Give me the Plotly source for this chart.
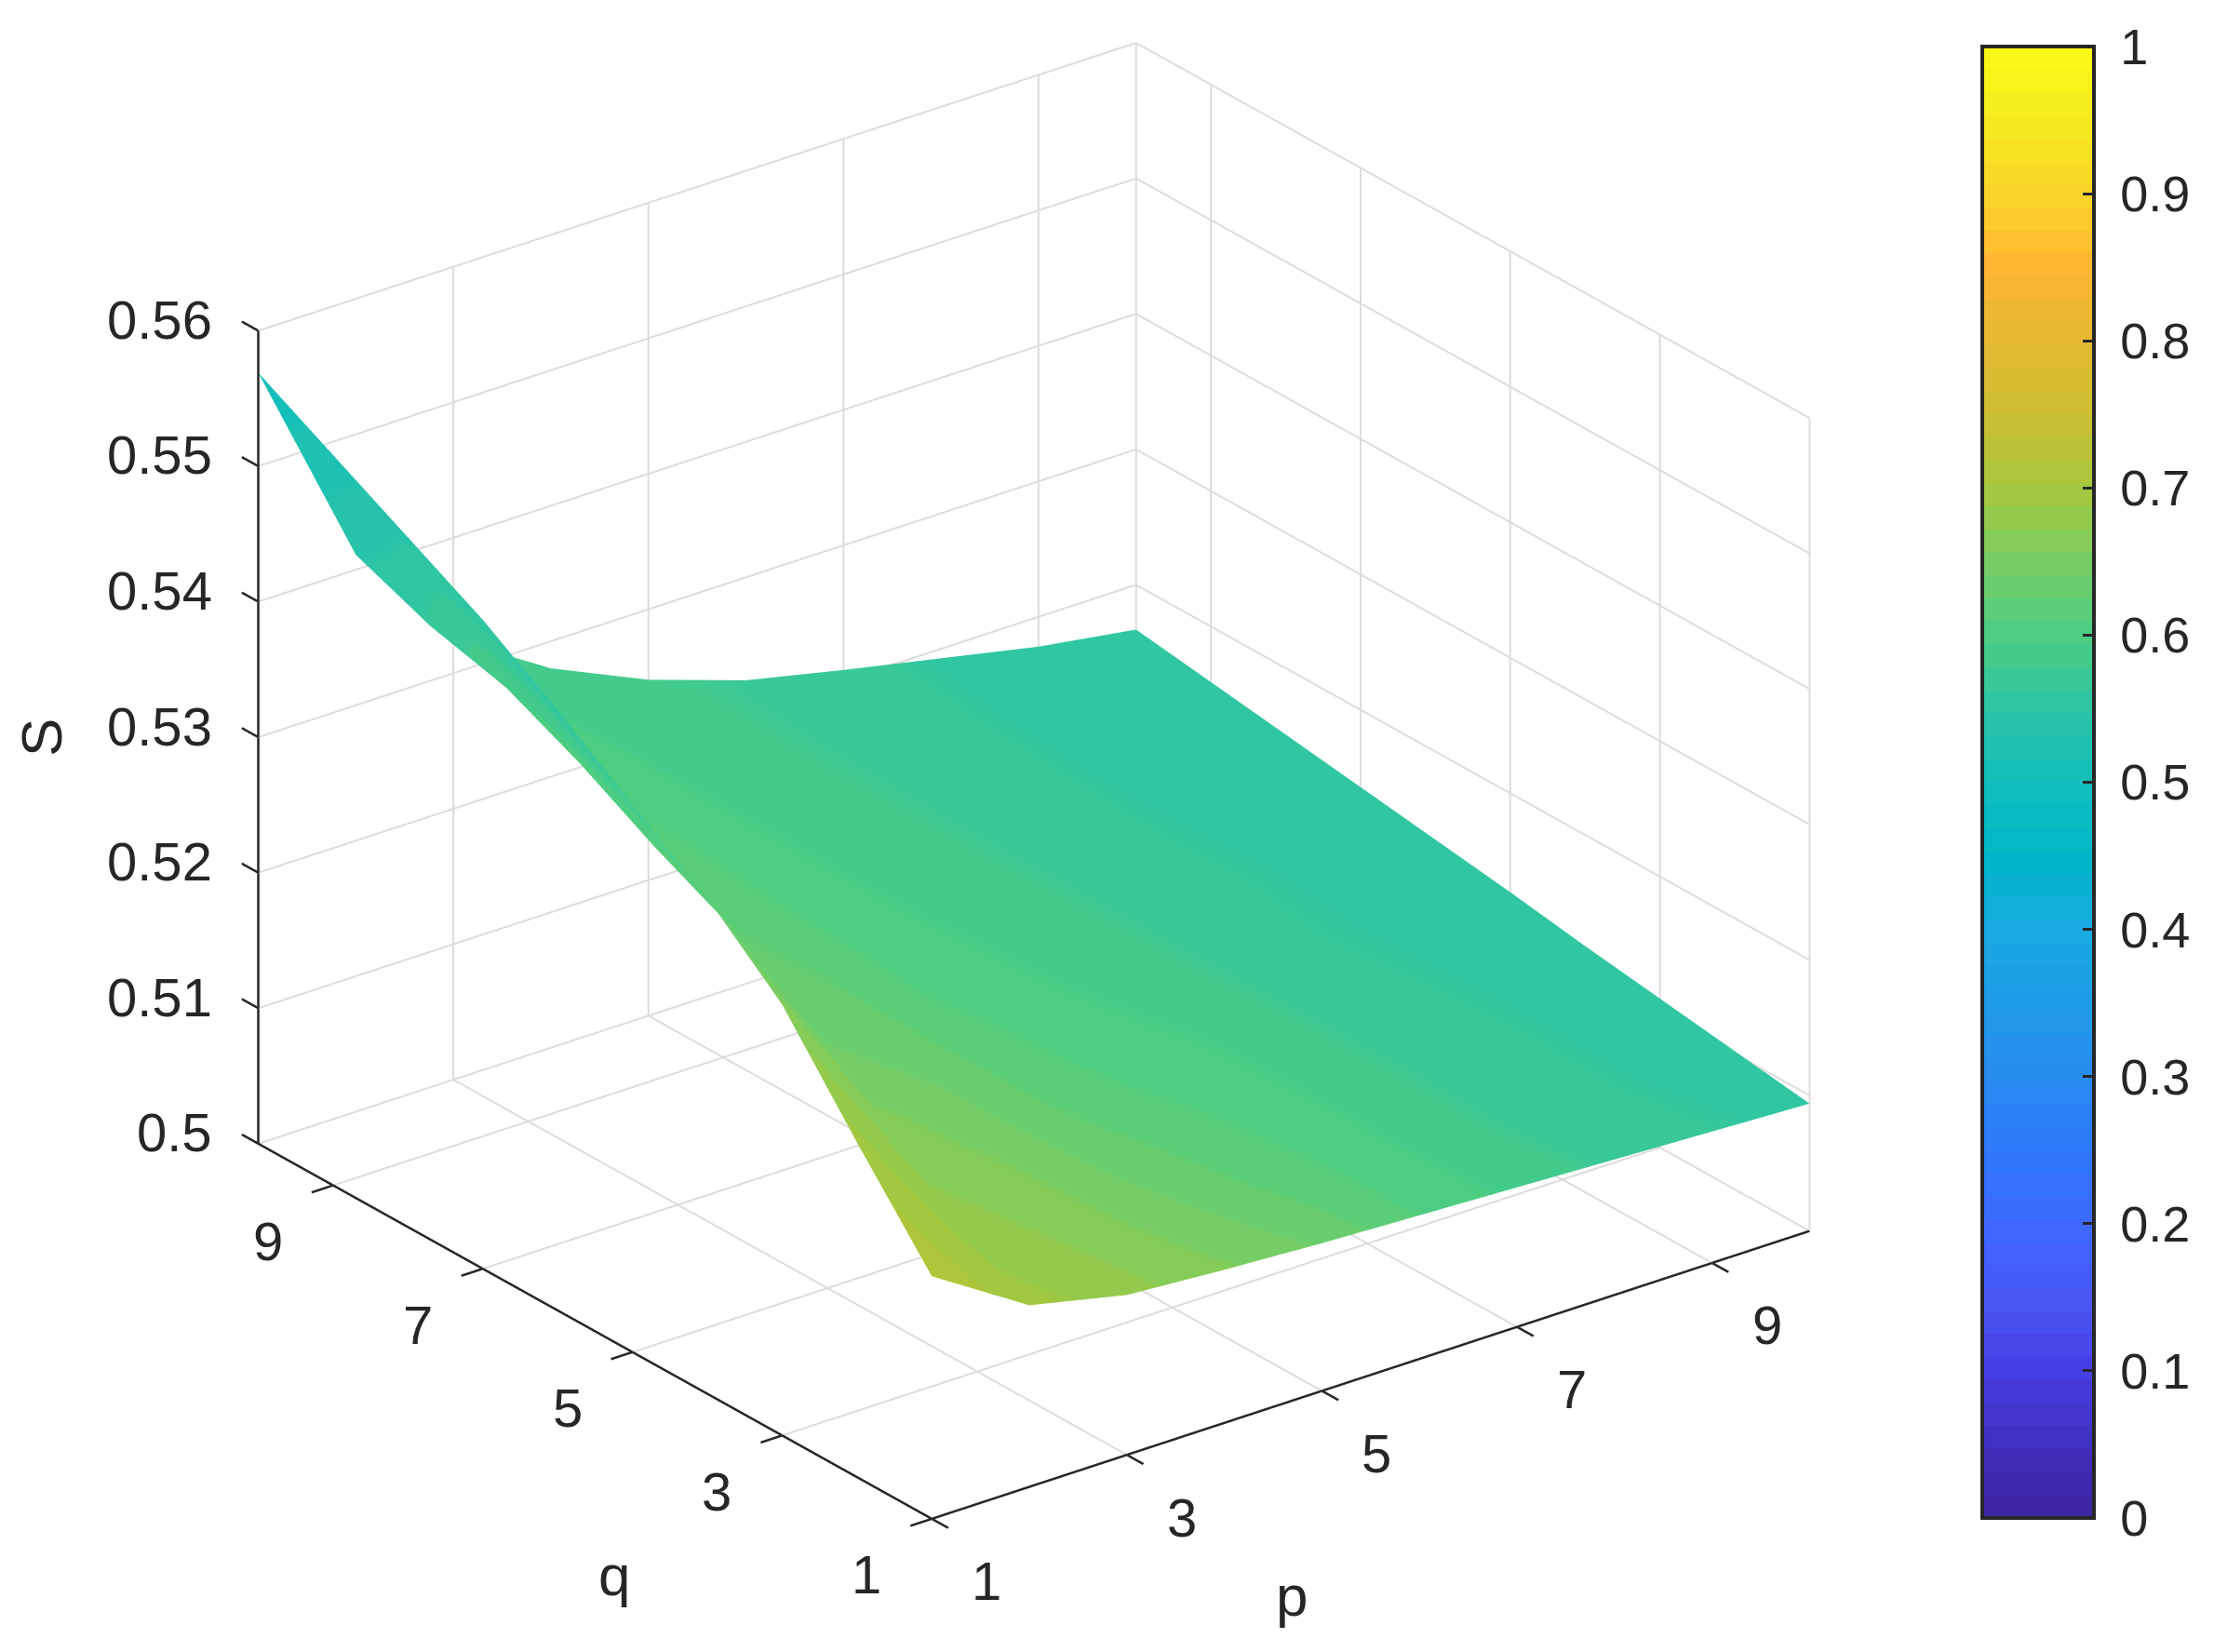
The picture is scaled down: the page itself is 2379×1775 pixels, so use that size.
import math
import plotly.graph_objects as go

p_vals = [1, 2, 3, 4, 5, 6, 7, 8, 9, 10]
q_vals = [1, 2, 3, 4, 5, 6, 7, 8, 9, 10]

# rows: q = 1..10, columns: p = 1..10
S_vals = [
    [.5179, .5134, .5118, .5113, .5109, .5106, .5103, .5100, .5097, .5094],
    [.5247, .5166, .5150, .5134, .5124, .5119, .5115, .5110, .5106, .5102],
    [.5318, .5213, .5180, .5155, .5140, .5132, .5126, .5121, .5115, .5110],
    [.5366, .5254, .5206, .5175, .5155, .5145, .5138, .5131, .5124, .5118],
    [.5404, .5291, .5230, .5194, .5170, .5159, .5150, .5141, .5133, .5127],
    [.5443, .5318, .5252, .5213, .5185, .5172, .5161, .5152, .5142, .5135],
    [.5479, .5349, .5273, .5231, .5200, .5185, .5173, .5162, .5151, .5143],
    [.5509, .5375, .5292, .5248, .5216, .5198, .5185, .5172, .5160, .5151],
    [.5539, .5389, .5308, .5264, .5232, .5211, .5196, .5183, .5169, .5159],
    [.5569, .5411, .5325, .5280, .5248, .5224, .5208, .5193, .5178, .5167],
]
C_vals = [
    [.712, .69, .675, .655, .635, .605, .585, .57, .56, .552],
    [.69, .675, .66, .64, .62, .60, .58, .567, .557, .551],
    [.66, .655, .645, .625, .61, .595, .578, .565, .556, .551],
    [.62, .63, .63, .615, .60, .59, .575, .562, .555, .55],
    [.57, .62, .62, .605, .595, .583, .572, .56, .554, .55],
    [.55, .61, .61, .60, .59, .58, .57, .56, .553, .55],
    [.545, .60, .605, .595, .585, .577, .568, .558, .553, .55],
    [.54, .59, .60, .59, .582, .575, .566, .557, .552, .55],
    [.52, .56, .59, .585, .58, .573, .565, .556, .552, .55],
    [.50, .54, .575, .58, .578, .572, .564, .556, .552, .55],
]

grid_ticks = [1, 3, 5, 7, 9, 10]
label_ticks = [1, 3, 5, 7, 9]
z_ticks = [.5, .51, .52, .53, .54, .55, .56]
z_labels = ["0.5", "0.51", "0.52", "0.53", "0.54", "0.55", "0.56"]

parula_anchors = [
    (60, 35, 160), (65, 48, 190), (70, 62, 228), (72, 88, 245), (62, 105, 255), (45, 120, 250),
    (40, 140, 240), (30, 155, 230), (25, 170, 225), (0, 183, 200), (15, 190, 190), (45, 197, 165),
    (75, 205, 130), (120, 205, 100), (165, 200, 60), (205, 190, 50), (228, 185, 50), (255, 182, 50),
    (250, 212, 40), (245, 235, 30), (250, 250, 20),
]

N = 64
parula = []
for i in range(N):
    t = (i + .5) / N * (len(parula_anchors) - 1)
    k = min(int(t), len(parula_anchors) - 2)
    f = t - k
    a, b = parula_anchors[k], parula_anchors[k + 1]
    col = "rgb(%d,%d,%d)" % tuple(round(a[j] + (b[j] - a[j]) * f) for j in range(3))
    parula.append([i / N, col])
    parula.append([(i + 1) / N, col])

FONT = "Liberation Sans"
INK = "#262626"
GRID = "#dcdcdc"
FS_BAR = 54
FS_AXIS = 58
FS_TITLE = 62
TICK = .22
PAD = TICK + .005
SCALE = 1.417 * (9 + 2 * PAD) / 9

az = math.radians(37.5)
el = math.radians(25.3)
R = 2.0
eye = dict(x=-R * math.sin(az) * math.cos(el), y=-R * math.cos(az) * math.cos(el), z=R * math.sin(el))


def axis(rng):
    return dict(
        title=dict(text=""), range=rng, showticklabels=False, ticks="",
        showbackground=False, showgrid=False, showline=False, zeroline=False, showspikes=False,
    )


zlo, zhi = z_ticks[0], z_ticks[-1]
grid_pairs = []
for v in grid_ticks:
    grid_pairs.append(((10, v, zlo), (10, v, zhi)))   # back wall p=10, verticals
    if v != 1:                                        # v=1 coincides with the black axes
        grid_pairs.append(((v, 10, zlo), (v, 10, zhi)))   # back wall q=10, verticals
        grid_pairs.append(((v, 1, zlo), (v, 10, zlo)))    # floor
        grid_pairs.append(((1, v, zlo), (10, v, zlo)))    # floor
for v in z_ticks:
    grid_pairs.append(((1, 10, v), (10, 10, v)))
    grid_pairs.append(((10, 1, v), (10, 10, v)))
axis_pairs = [((1, 10, zlo), (1, 10, zhi)), ((1, 1, zlo), (1, 10, zlo)), ((1, 1, zlo), (10, 1, zlo))]
for v in label_ticks:
    axis_pairs.append(((v, 1, zlo), (v, 1 - TICK, zlo)))
    axis_pairs.append(((1, v, zlo), (1 - TICK, v, zlo)))
for v in z_ticks:
    axis_pairs.append(((1, 10, v), (1, 10 + TICK, v)))

afont = dict(family=FONT, size=FS_AXIS, color=INK)
bfont = dict(family=FONT, size=FS_BAR, color=INK)
tfont = dict(family=FONT, size=FS_TITLE, color=INK)
scene_notes = []
for v, t in zip(z_ticks, z_labels):
    scene_notes.append(dict(x=1, y=10, z=v, text=t, showarrow=False, xanchor="right", xshift=-48, yshift=12, font=afont))
for v in label_ticks:
    scene_notes.append(dict(x=1, y=v, z=zlo, text=str(v), showarrow=False, xshift=-70, yshift=-60, font=afont))
    scene_notes.append(dict(x=v, y=1, z=zlo, text=str(v), showarrow=False, xshift=59, yshift=-67, font=afont))

fig = go.Figure()
for a, b in grid_pairs:
    fig.add_trace(go.Scatter3d(x=[a[0], b[0]], y=[a[1], b[1]], z=[a[2], b[2]], mode="lines",
                               line=dict(color=GRID, width=4), hoverinfo="skip", showlegend=False))
for a, b in axis_pairs:
    fig.add_trace(go.Scatter3d(x=[a[0], b[0]], y=[a[1], b[1]], z=[a[2], b[2]], mode="lines",
                               line=dict(color=INK, width=5), hoverinfo="skip", showlegend=False))
fig.add_trace(go.Surface(
    x=p_vals, y=q_vals, z=S_vals, surfacecolor=C_vals,
    colorscale=parula, cmin=0, cmax=1, showscale=True,
    lighting=dict(ambient=1, diffuse=0, specular=0, fresnel=0, roughness=1),
    hoverinfo="skip",
    colorbar=dict(
        x=2130 / 2379, xanchor="left", xref="paper", thickness=120, thicknessmode="pixels",
        len=1581 / 1775, lenmode="fraction", y=1 - 840.5 / 1775, yanchor="middle", yref="paper",
        outlinecolor=INK, outlinewidth=4, borderwidth=0, ypad=0, xpad=0,
        ticks="inside", ticklen=14, tickwidth=3, tickcolor=INK,
        tickmode="linear", tick0=0, dtick=.1, tickprefix="\u00a0",
        tickfont=bfont,
    ),
))
fig.update_layout(
    width=2379, height=1775, margin=dict(l=0, r=0, t=0, b=0, autoexpand=False),
    paper_bgcolor="white", font=dict(family=FONT, color=INK),
    scene=dict(
        domain=dict(x=[0, 2222 / 2379], y=[1 - 1678 / 1775, 1]),
        xaxis=axis([1 - PAD, 10 + PAD]),
        yaxis=axis([1 - PAD, 10 + PAD]),
        zaxis=axis([.49995, .56005]),
        aspectmode="manual",
        aspectratio=dict(x=SCALE, y=SCALE, z=.814 * 1.417),
        camera=dict(eye=eye, center=dict(x=0, y=0, z=0), up=dict(x=0, y=0, z=1),
                    projection=dict(type="orthographic")),
        annotations=scene_notes,
    ),
    annotations=[
        dict(text="p", x=1388 / 2379, y=1 - 1714 / 1775, xref="paper", yref="paper", xanchor="center", yanchor="middle", showarrow=False, font=tfont),
        dict(text="q", x=660 / 2379, y=1 - 1692 / 1775, xref="paper", yref="paper", xanchor="center", yanchor="middle", showarrow=False, font=tfont),
        dict(text="S", x=44 / 2379, y=1 - 793 / 1775, xref="paper", yref="paper", xanchor="center", yanchor="middle", showarrow=False, textangle=-90, font=tfont),
    ],
)
fig.write_html("out.html", config={"displayModeBar": False},
               post_script="document.body.style.margin='0';document.body.style.overflow='hidden';")
